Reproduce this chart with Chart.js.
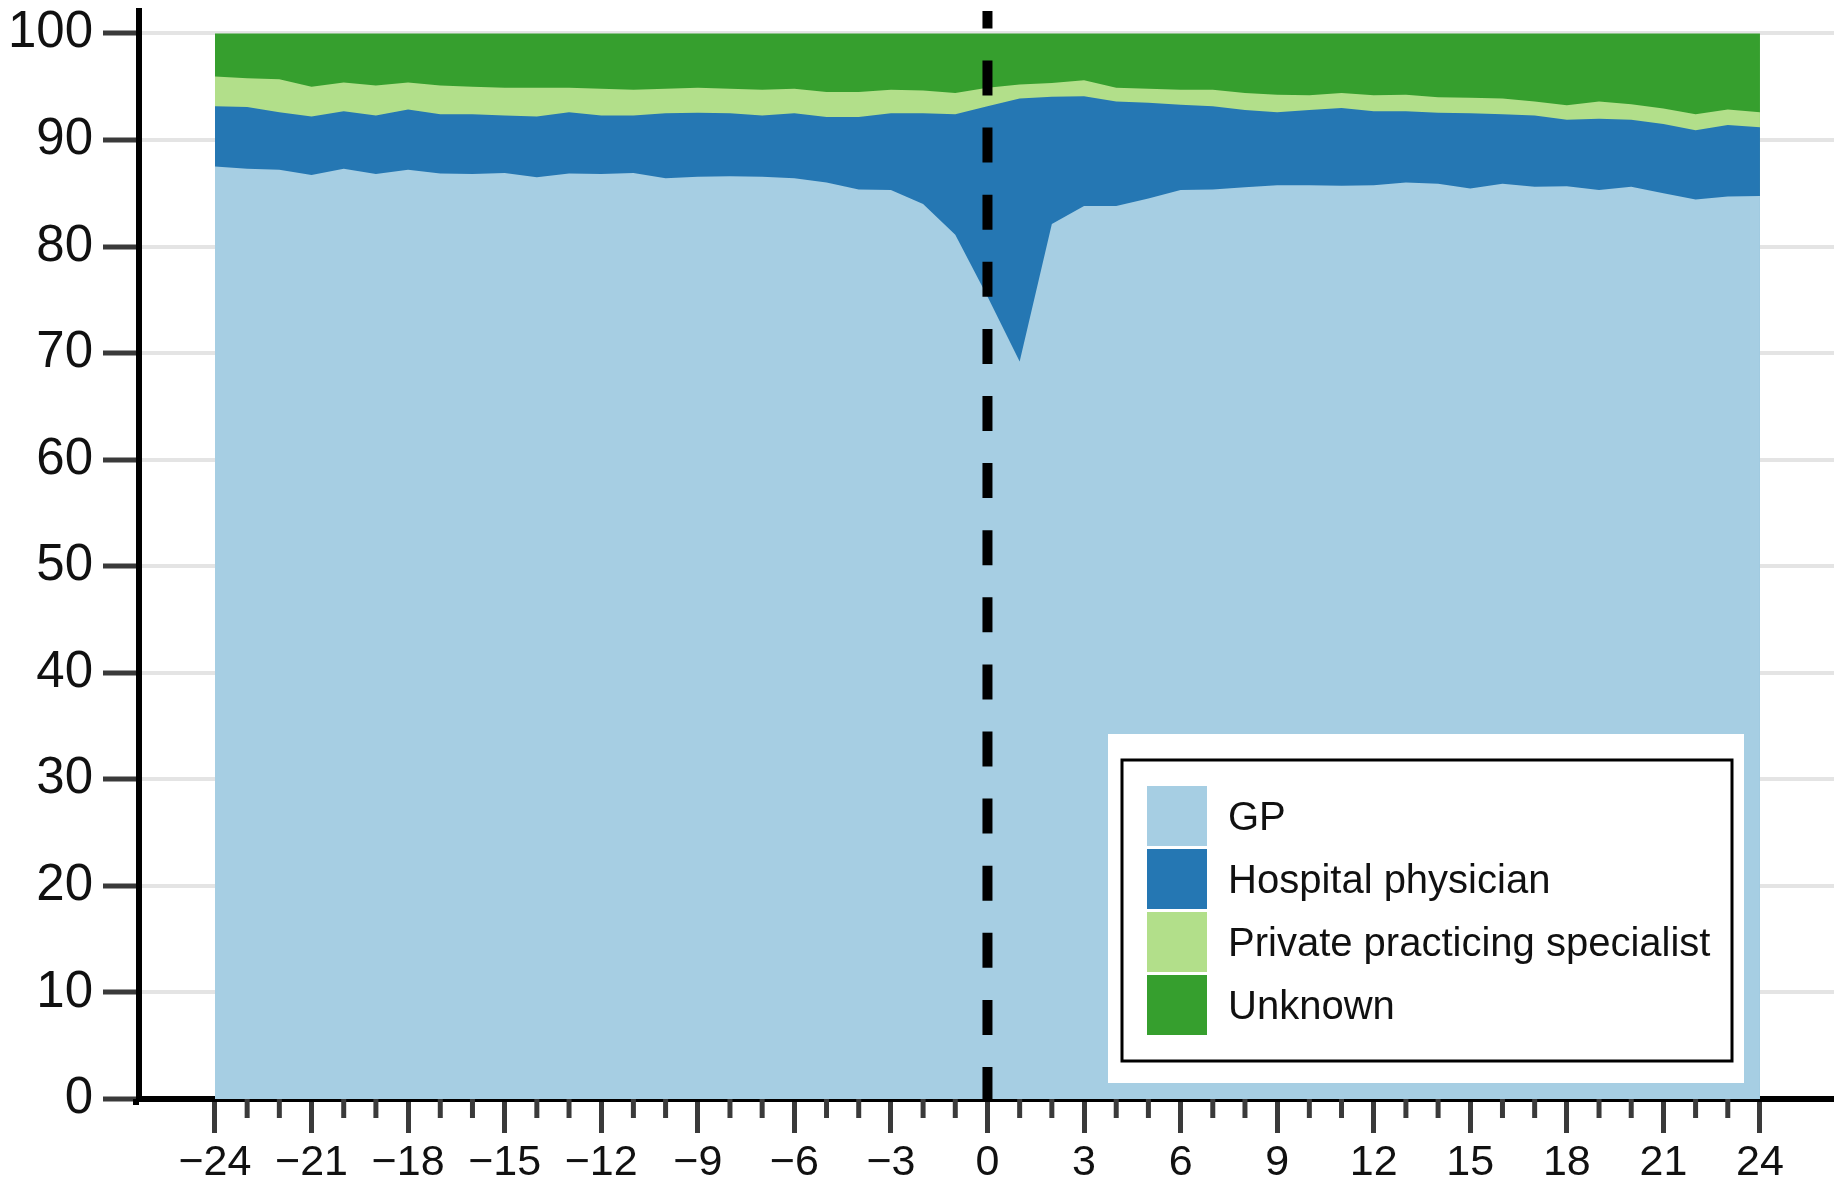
<!DOCTYPE html>
<html>
<head>
<meta charset="utf-8">
<title>Referral source by month</title>
<script src="https://cdn.jsdelivr.net/npm/chart.js@4.4.1/dist/chart.umd.min.js"></script>
<style>
  html, body { margin: 0; padding: 0; background: #ffffff; }
  #wrap { width: 1834px; height: 1182px; }
</style>
</head>
<body>
<div id="wrap"><canvas id="chart" width="1834" height="1182"></canvas></div>
<script>
// Months relative to the index date
const months = [-24, -23, -22, -21, -20, -19, -18, -17, -16, -15, -14, -13,
                -12, -11, -10, -9, -8, -7, -6, -5, -4, -3, -2, -1,
                0, 1, 2, 3, 4, 5, 6, 7, 8, 9, 10, 11,
                12, 13, 14, 15, 16, 17, 18, 19, 20, 21, 22, 23, 24];

// Share of contacts (%) by type of referring physician
const gp = [87.5, 87.3, 87.2, 86.7, 87.3, 86.8, 87.2, 86.85, 86.8, 86.9, 86.5, 86.85,
            86.8, 86.9, 86.4, 86.55, 86.6, 86.55, 86.4, 86.0, 85.35, 85.3, 84.0, 81.1,
            75.3, 69.2, 82.1, 83.8, 83.8, 84.5, 85.3, 85.35, 85.55, 85.75, 85.75, 85.7,
            85.75, 86.0, 85.9, 85.45, 85.9, 85.6, 85.65, 85.3, 85.6, 85.0, 84.4, 84.7, 84.75];
const hospital = [5.65, 5.8, 5.4, 5.5, 5.4, 5.5, 5.65, 5.55, 5.6, 5.4, 5.7, 5.75,
                  5.5, 5.4, 6.1, 6.0, 5.9, 5.75, 6.1, 6.15, 6.8, 7.2, 8.5, 11.3,
                  17.85, 24.7, 11.95, 10.3, 9.8, 9.0, 8.0, 7.8, 7.25, 6.85, 7.05, 7.3,
                  6.95, 6.7, 6.65, 7.05, 6.5, 6.7, 6.25, 6.7, 6.3, 6.5, 6.5, 6.7, 6.45];
const privateSpecialist = [2.8, 2.7, 3.1, 2.8, 2.7, 2.8, 2.55, 2.7, 2.6, 2.6, 2.7, 2.3,
                           2.5, 2.4, 2.3, 2.35, 2.3, 2.4, 2.3, 2.35, 2.35, 2.2, 2.15, 2.0,
                           1.75, 1.3, 1.3, 1.5, 1.3, 1.3, 1.4, 1.55, 1.6, 1.65, 1.4, 1.4,
                           1.5, 1.55, 1.45, 1.45, 1.5, 1.3, 1.35, 1.6, 1.45, 1.45, 1.5, 1.45, 1.4];
const unknown = [4.05, 4.2, 4.3, 5.0, 4.6, 4.9, 4.6, 4.9, 5.0, 5.1, 5.1, 5.1,
                 5.2, 5.3, 5.2, 5.1, 5.2, 5.3, 5.2, 5.5, 5.5, 5.3, 5.35, 5.6,
                 5.1, 4.8, 4.65, 4.4, 5.1, 5.2, 5.3, 5.3, 5.6, 5.75, 5.8, 5.6,
                 5.8, 5.75, 6.0, 6.05, 6.1, 6.4, 6.75, 6.4, 6.65, 7.05, 7.6, 7.15, 7.4];

const seriesNames = ['GP', 'Hospital physician', 'Private practicing specialist', 'Unknown'];
const seriesColors = ['#a6cee3', '#2577b3', '#b2df8a', '#369f2e'];

// Axis ticks
const xTickValues = [-24, -21, -18, -15, -12, -9, -6, -3, 0, 3, 6, 9, 12, 15, 18, 21, 24];
const xTickLabels = ['\u221224', '\u221221', '\u221218', '\u221215', '\u221212', '\u22129', '\u22126', '\u22123',
                     '0', '3', '6', '9', '12', '15', '18', '21', '24'];
const yTickValues = [0, 10, 20, 30, 40, 50, 60, 70, 80, 90, 100];
const eventMonth = 0;

const FONT = "'Liberation Sans', Arial, Helvetica, sans-serif";
const TICK_DARK = '#3a3a3a';

// Dashed vertical marker at the index month
const eventLine = {
  id: 'eventLine',
  afterDatasetsDraw(chart) {
    const { ctx, chartArea, scales } = chart;
    const x = scales.x.getPixelForValue(eventMonth);
    const yBottom = scales.y.getPixelForValue(0) + 3;
    ctx.save();
    ctx.strokeStyle = '#000';
    ctx.lineWidth = 10;
    ctx.lineCap = 'butt';
    ctx.setLineDash([35, 32.1]);
    ctx.beginPath();
    ctx.moveTo(x, yBottom);
    ctx.lineTo(x, chartArea.top);
    ctx.stroke();
    ctx.restore();
  }
};

// Short unlabeled monthly ticks between the labeled ones, plus the axis corner
const minorTicks = {
  id: 'minorTicks',
  afterDraw(chart) {
    const { ctx, chartArea, scales } = chart;
    ctx.save();
    ctx.strokeStyle = TICK_DARK;
    ctx.lineWidth = 5;
    months.forEach(m => {
      if (xTickValues.includes(m)) return;
      const x = scales.x.getPixelForValue(m);
      ctx.beginPath();
      ctx.moveTo(x, chartArea.bottom);
      ctx.lineTo(x, chartArea.bottom + 19);
      ctx.stroke();
    });
    ctx.fillStyle = '#000';
    ctx.fillRect(chartArea.left - 6, chartArea.bottom, 6, 6);
    ctx.restore();
  }
};

// Boxed legend inside the plot area
const boxLegend = {
  id: 'boxLegend',
  afterDatasetsDraw(chart) {
    const { ctx, chartArea } = chart;
    const w = 636, h = 349;
    const left = chartArea.right - 90 - w;
    const top = chartArea.bottom - 16 - h;
    ctx.save();
    ctx.fillStyle = '#ffffff';
    ctx.fillRect(left, top, w, h);
    ctx.strokeStyle = '#000';
    ctx.lineWidth = 3;
    ctx.strokeRect(left + 14, top + 26, 610, 301);
    ctx.font = '40px ' + FONT;
    ctx.textAlign = 'left';
    ctx.textBaseline = 'alphabetic';
    chart.data.datasets.forEach((ds, i) => {
      const sy = top + 52 + i * 63;
      ctx.fillStyle = ds.backgroundColor;
      ctx.fillRect(left + 39, sy, 60, 60);
      ctx.fillStyle = '#111';
      ctx.fillText(ds.label, left + 120, sy + 30 + 14);
    });
    ctx.restore();
  }
};

const seriesValues = [gp, hospital, privateSpecialist, unknown];

const datasets = seriesValues.map((vals, i) => ({
  label: seriesNames[i],
  data: vals.map((v, j) => ({ x: months[j], y: v })),
  backgroundColor: seriesColors[i],
  borderColor: seriesColors[i],
  borderWidth: 0,
  pointRadius: 0,
  pointHoverRadius: 0,
  tension: 0,
  fill: 'origin'
}));

new Chart(document.getElementById('chart'), {
  type: 'line',
  data: { datasets },
  options: {
    responsive: false,
    animation: false,
    devicePixelRatio: 1,
    layout: { padding: { top: 11, right: 0, bottom: 0, left: 0 } },
    plugins: {
      legend: { display: false },
      tooltip: { enabled: false }
    },
    scales: {
      x: {
        type: 'linear',
        min: -26.36,
        max: 26.3,
        afterBuildTicks(scale) {
          scale.ticks = months.map(v => ({ value: v }));
        },
        afterFit(scale) {
          scale.height = 83;
          scale.paddingLeft = 0;
          scale.paddingRight = 0;
        },
        ticks: {
          autoSkip: false,
          maxRotation: 0,
          padding: 4,
          color: '#111',
          font: { family: FONT, size: 43 },
          callback(value) {
            const k = xTickValues.indexOf(value);
            return k >= 0 ? xTickLabels[k] : '';
          }
        },
        grid: {
          drawOnChartArea: false,
          drawTicks: true,
          tickLength: 34,
          tickWidth: 5,
          tickColor: ctx => (ctx.tick && xTickValues.includes(ctx.tick.value)) ? TICK_DARK : 'rgba(0,0,0,0)'
        },
        border: { display: true, color: '#000', width: 6 }
      },
      y: {
        type: 'linear',
        stacked: true,
        min: 0,
        max: 102.1,
        afterBuildTicks(scale) {
          scale.ticks = yTickValues.map(v => ({ value: v }));
        },
        afterFit(scale) {
          scale.width = 139;
          scale.paddingTop = 0;
          scale.paddingBottom = 0;
        },
        ticks: {
          padding: 10,
          color: '#111',
          font: { family: FONT, size: 51 },
          callback: value => String(value)
        },
        grid: {
          drawOnChartArea: true,
          color: '#e4e4e4',
          lineWidth: 4,
          tickLength: 36,
          tickWidth: 5,
          tickColor: TICK_DARK
        },
        border: { display: true, color: '#000', width: 6 }
      }
    }
  },
  plugins: [eventLine, minorTicks, boxLegend]
});
</script>
</body>
</html>
